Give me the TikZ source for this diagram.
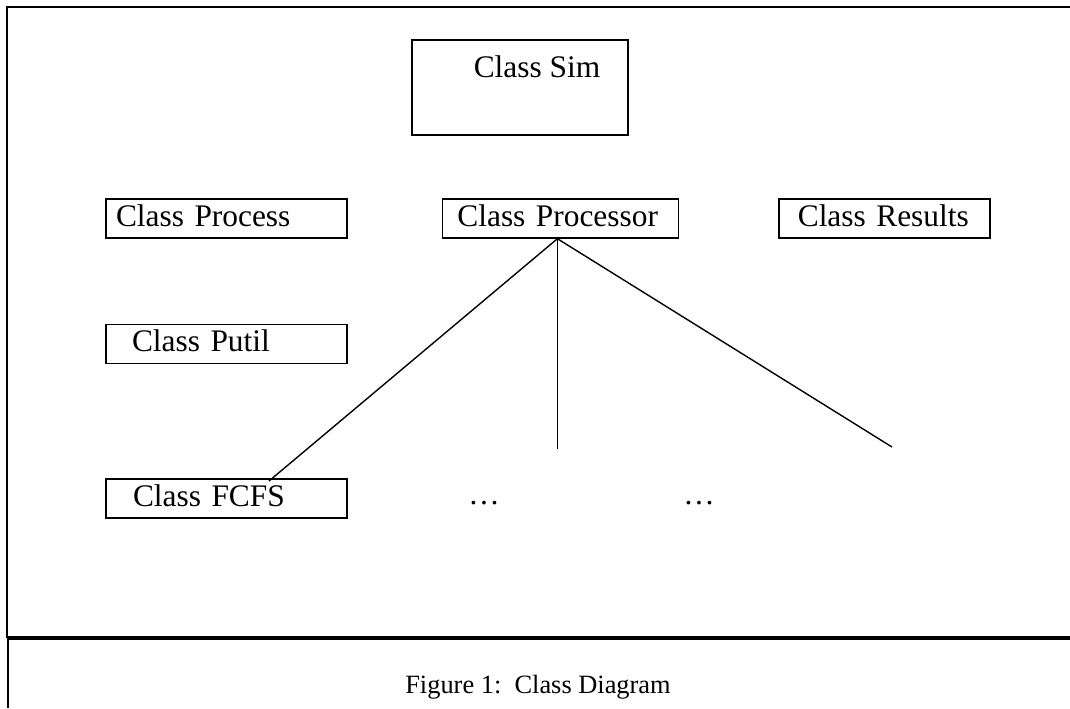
\documentclass[tikz,border=0pt]{standalone}
\usepackage{fontspec}
\setmainfont{Liberation Serif}
\usetikzlibrary{positioning}
\newcommand*{\ind}[1]{\hspace{#1pt}}

\begin{document}
\begin{tikzpicture}[x=0.5pt, y=-0.5pt,
    class_box/.style ={rectangle, draw=black, line width=0.7pt, fill=white,
      font=\fontsize{15.7}{19}\selectfont, text ragged, inner xsep=5pt, inner ysep=0pt,
      minimum height=19.5pt, text height=11pt, text depth=3pt},
    class_main/.style ={rectangle, draw=black, line width=0.7pt, fill=white,
      font=\fontsize{15.7}{19}\selectfont, text centered, inner sep=0pt,
      minimum width=108pt, minimum height=47.5pt, text height=18.5pt, text depth=29pt},
    block_noborder/.style ={rectangle, draw=none, font=\fontsize{15.7}{19}\selectfont, inner sep=0pt},
    frame/.style ={draw, line width=1pt},
    line/.style ={draw, line width=0.7pt}]
    \useasboundingbox (0,0) rectangle (1070,708);
    % frame
    \draw [frame] (1070,7) -- (7,7) -- (7,638);
    \draw [frame, line width=1.6pt] (7,638) -- (1070,638);
    \draw [frame] (8,640) -- (8,708);
    % row 1
    \node [class_main] (sim) at (520,87.5) {\ind{17}Class Sim};
    % row 2
    \node [class_box, text width=110.5pt] (process) at (226.5,218.5) {Class Process};
    \node [class_box, text width=108pt] (processor) [right=47pt of process] {\ind{2.5}Class Processor};
    \node [class_box, text width=95.5pt] (results) [right=49.5pt of processor] {\ind{4.5}Class Results};
    % row 3
    \node [class_box, text width=110.5pt] (putil) [below=42.5pt of process] {\ind{8}Class Putil};
    % row 4
    \node [class_box, text width=110.5pt] (fcfs) [below=57pt of putil] {\ind{8.5}Class FCFS};
    \node [block_noborder] (dots1) at (484,503) {\dots};
    \node [block_noborder] (dots2) at (699,503) {\dots};
    % caption
    \node [block_noborder, font=\fontsize{13.2}{16}\selectfont] (caption) at (538,687) {Figure 1:\ \ Class Diagram};
    % connecting nodes with paths
    \coordinate (apex) at ([xshift=-1.5pt]processor.south);
    \coordinate (fcfs_end) at (269,481);
    \coordinate (mid_end) at (apex |- 0,449);
    \coordinate (right_end) at (892,447);
    \begin{scope}[every path/.style=line]
      \path (apex) -- (fcfs_end);
      \path (apex) -- (mid_end);
      \path (apex) -- (right_end);
    \end{scope}
\end{tikzpicture}
\end{document}
